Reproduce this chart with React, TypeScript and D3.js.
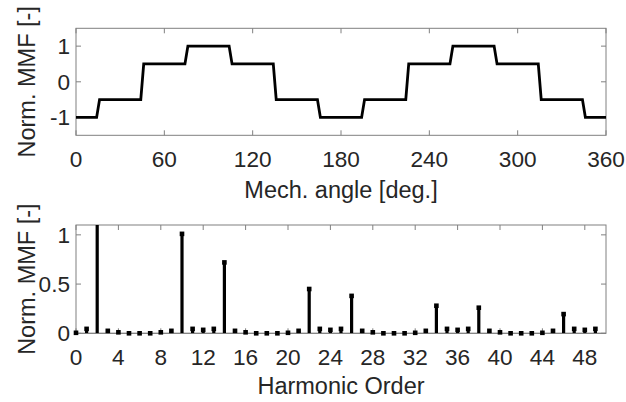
import React from "react";
import * as d3 from "d3";

// Top panel: stepped MMF waveform (angle in deg, normalized value)
const mmfAngles = [0, 14, 16, 44, 46, 74, 76, 104, 106, 134, 136, 164, 166, 194, 196, 224, 226, 254, 256, 284, 286, 314, 316, 344, 346, 360];
const mmfValues = [-1, -1, -0.5, -0.5, 0.5, 0.5, 1, 1, 0.5, 0.5, -0.5, -0.5, -1, -1, -0.5, -0.5, 0.5, 0.5, 1, 1, 0.5, 0.5, -0.5, -0.5, -1, -1];
const topXTicks = [0, 60, 120, 180, 240, 300, 360];
const topYTicks = [-1, 0, 1];

// Bottom panel: harmonic spectrum
const harmonicOrders = d3.range(0, 50);
const harmonicValues = [
  0.005, 0.045, 1.2, 0.025, 0.01, 0.0, 0.0, 0.0, 0.01, 0.025,
  1.01, 0.045, 0.035, 0.045, 0.72, 0.025, 0.01, 0.0, 0.0, 0.0,
  0.005, 0.025, 0.45, 0.045, 0.035, 0.045, 0.38, 0.025, 0.01, 0.0,
  0.0, 0.0, 0.005, 0.025, 0.28, 0.045, 0.035, 0.045, 0.26, 0.025,
  0.01, 0.0, 0.0, 0.0, 0.005, 0.025, 0.195, 0.045, 0.035, 0.045,
];
const botXTicks = d3.range(0, 49, 4);
const botYTicks = [0, 0.5, 1];

const FONT = "'Liberation Sans', Arial, Helvetica, sans-serif";
const TXT = "#262626";
const AX = "#808080";
const FS = 22.6;
const LFS = 23.5;
const TICK = 5;

const L = 76, R = 606;
const top1 = 28.3, bot1 = 135.3;
const top2 = 225, bot2 = 333.3;

function Frame({ x, y, xTicks, yTicks, xFmt, yFmt, t, b }: any) {
  return (
    <g>
      <rect x={L} y={t} width={R - L} height={b - t} fill="none" stroke={AX} strokeWidth={1} />
      {xTicks.map((v: number) => (
        <g key={"x" + v}>
          <line x1={x(v)} x2={x(v)} y1={b} y2={b - TICK} stroke={AX} />
          <line x1={x(v)} x2={x(v)} y1={t} y2={t + TICK} stroke={AX} />
          <text x={x(v)} y={b + 32} textAnchor="middle" fontSize={FS} fill={TXT} fontFamily={FONT}>
            {xFmt(v)}
          </text>
        </g>
      ))}
      {yTicks.map((v: number) => (
        <g key={"y" + v}>
          <line x1={L} x2={L + TICK} y1={y(v)} y2={y(v)} stroke={AX} />
          <line x1={R} x2={R - TICK} y1={y(v)} y2={y(v)} stroke={AX} />
          <text x={L - 6} y={y(v)} dy="0.35em" textAnchor="end" fontSize={FS} fill={TXT} fontFamily={FONT}>
            {yFmt(v)}
          </text>
        </g>
      ))}
    </g>
  );
}

export default function App() {
  const x1 = d3.scaleLinear().domain([0, 360]).range([L, R]);
  const y1 = d3.scaleLinear().domain([-1.5, 1.5]).range([bot1, top1]);
  const x2 = d3.scaleLinear().domain([0, 50]).range([L, R]);
  const y2 = d3.scaleLinear().domain([0, 1.1]).range([bot2, top2]);

  const line = d3
    .line<number>()
    .x((_, i) => x1(mmfAngles[i]))
    .y((d) => y1(d));

  const fmt = (v: number) => (v < 0 ? "-" + Math.abs(v) : String(v));
  const ms = 4.6;

  return (
    <svg width={626} height={402} style={{ position: "absolute", left: 0, top: 0, background: "#fff" }}>
      <defs>
        <clipPath id="clip2">
          <rect x={L} y={top2} width={R - L} height={bot2 - top2} />
        </clipPath>
      </defs>
      <rect width={626} height={402} fill="#fff" />

      {/* Top panel */}
      <Frame x={x1} y={y1} xTicks={topXTicks} yTicks={topYTicks} xFmt={String} yFmt={fmt} t={top1} b={bot1} />
      <path d={line(mmfValues) || ""} fill="none" stroke="#000" strokeWidth={2.8} strokeLinejoin="miter" />
      <text x={(L + R) / 2} y={198} textAnchor="middle" fontSize={LFS} fill={TXT} fontFamily={FONT}>
        Mech. angle [deg.]
      </text>
      <text
        transform={`translate(${35},${(top1 + bot1) / 2}) rotate(-90)`}
        textAnchor="middle"
        fontSize={LFS}
        fill={TXT}
        fontFamily={FONT}
      >
        Norm. MMF [-]
      </text>

      {/* Bottom panel */}
      <Frame x={x2} y={y2} xTicks={botXTicks} yTicks={botYTicks} xFmt={String} yFmt={String} t={top2} b={bot2} />
      <line x1={L} x2={R} y1={y2(0)} y2={y2(0)} stroke={AX} strokeWidth={1} />
      <g clipPath="url(#clip2)">
        {harmonicOrders.map((h, i) => (
          <line key={"s" + h} x1={x2(h)} x2={x2(h)} y1={y2(0)} y2={y2(harmonicValues[i])} stroke="#000" strokeWidth={3.2} />
        ))}
      </g>
      {harmonicOrders.map((h, i) =>
        harmonicValues[i] <= 1.1 ? (
          <rect key={"m" + h} x={x2(h) - ms / 2} y={y2(harmonicValues[i]) - ms / 2} width={ms} height={ms} fill="#000" />
        ) : null
      )}
      <text x={(L + R) / 2} y={394} textAnchor="middle" fontSize={LFS} fill={TXT} fontFamily={FONT}>
        Harmonic Order
      </text>
      <text
        transform={`translate(${35},${(top2 + bot2) / 2}) rotate(-90)`}
        textAnchor="middle"
        fontSize={LFS}
        fill={TXT}
        fontFamily={FONT}
      >
        Norm. MMF [-]
      </text>
    </svg>
  );
}
